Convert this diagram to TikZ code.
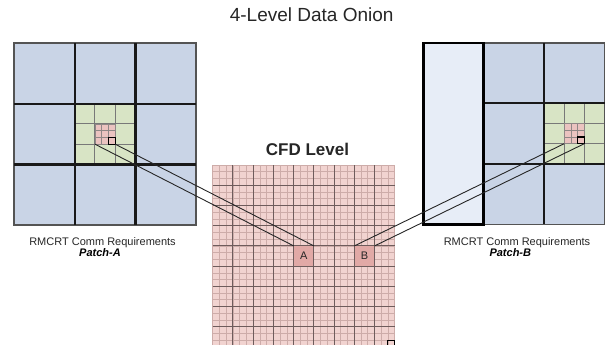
\documentclass[tikz,border=0pt]{standalone}
\usepackage{fontspec}
\setmainfont{Liberation Sans}
\definecolor{bluecell}{RGB}{201,212,230}
\definecolor{lightcol}{RGB}{231,237,247}
\definecolor{greencell}{RGB}{216,228,197}
\definecolor{redcell}{RGB}{235,195,192}
\definecolor{cfdbg}{RGB}{241,211,208}
\definecolor{aboxfill}{RGB}{225,169,166}
\definecolor{fineline}{RGB}{205,172,169}
\definecolor{majorline}{RGB}{110,92,92}
\definecolor{cellgray}{RGB}{120,120,120}
\definecolor{txtgray}{RGB}{38,38,38}
\tikzset{
  bluebox/.style={fill=bluecell,draw=cellgray,line width=1.2pt},
  lightbox/.style={fill=lightcol,draw=black,line width=2.6pt},
  greenbox/.style={fill=greencell,draw=cellgray,line width=1pt},
  redbox/.style={fill=redcell,draw=cellgray!80!redcell,line width=0.8pt},
  heavy/.style={draw=black!90,line width=2.2pt},
  outer/.style={draw=cellgray!70!black,line width=1.4pt},
  finel/.style={draw=fineline,line width=0.7pt},
  majorl/.style={draw=majorline,line width=0.9pt},
  cfdcell/.style={draw=majorline,line width=1pt,fill=aboxfill,minimum size=20.2pt,inner sep=0pt,outer sep=0pt,font=\fontsize{11}{13}\selectfont,text=txtgray},
  conn/.style={draw=black!85,line width=0.9pt},
  marker/.style={draw=black,line width=1.1pt},
}
\begin{document}
\begin{tikzpicture}[x=1pt,y=-1pt]
\useasboundingbox (0,0) rectangle (611,345);

% ---------- left patch (Patch-A) ----------
\foreach \i in {0,1,2}{\foreach \j in {0,1,2}{
  \path[bluebox] (14+\i*60.7,43+\j*60.7) rectangle ++(60.7,60.7);}}
\foreach \i in {0,1,2}{\foreach \j in {0,1,2}{
  \path[greenbox] (74.7+\i*20.233,103.7+\j*20.233) rectangle ++(20.233,20.233);}}
\foreach \i in {0,1,2}{\foreach \j in {0,1,2}{
  \path[redbox] (94.93+\i*6.744,123.93+\j*6.744) rectangle ++(6.744,6.744);}}
\path[marker] (108.42,137.42) rectangle ++(6.744,6.744);
\path[outer] (14,43) rectangle (196.1,225.1);
\path[heavy] (74.7,43) -- (74.7,225.1) (135.4,43) -- (135.4,225.1)
             (14,103.7) -- (196.1,103.7) (14,164.4) -- (196.1,164.4);
\coordinate (la1) at (94.93,144.16);
\coordinate (la2) at (115.16,144.16);

% ---------- right patch (Patch-B) ----------
\foreach \i in {1,2}{\foreach \j in {0,1,2}{
  \path[bluebox] (423.3+\i*60.4,43+\j*60.4) rectangle ++(60.4,60.4);}}
\foreach \i in {0,1,2}{\foreach \j in {0,1,2}{
  \path[greenbox] (544.1+\i*20.133,103.4+\j*20.133) rectangle ++(20.133,20.133);}}
\foreach \i in {0,1,2}{\foreach \j in {0,1,2}{
  \path[redbox] (564.23+\i*6.711,123.53+\j*6.711) rectangle ++(6.711,6.711);}}
\path[marker] (577.65,136.95) rectangle ++(6.711,6.711);
\path[outer] (483.7,43) rectangle (604.5,224.2);
\path[heavy] (544.1,43) -- (544.1,224.2)
             (483.7,103.4) -- (604.5,103.4) (483.7,163.8) -- (604.5,163.8);
\path[lightbox] (423.3,43) rectangle (483.7,224.2);
\coordinate (rb1) at (564.23,143.66);
\coordinate (rb2) at (584.36,143.66);

% ---------- CFD level ----------
\fill[cfdbg] (212.7,165) rectangle ++(182,182);
\foreach \k in {0,...,27}{
  \path[finel] (212.7+\k*6.741,165) -- ++(0,182);
  \path[finel] (212.7,165+\k*6.741) -- ++(182,0);}
\foreach \k in {3,6,...,24}{
  \path[majorl] (212.7+\k*6.741,165) -- ++(0,182);
  \path[majorl] (212.7,165+\k*6.741) -- ++(182,0);}
\path[marker] (387.9,340.3) rectangle ++(6.74,6.74);
\node[cfdcell] (A) at (303.8,256) {A};
\node[cfdcell] (B) at (364.5,256) {B};

% ---------- connectors ----------
\path[conn] (la1) -- (A.north west);
\path[conn] (la2) -- (A.north east);
\path[conn] (rb1) -- (B.north west);
\path[conn] (rb2) -- (B.north east);

% ---------- texts ----------
\node[anchor=base,inner sep=0pt,text=txtgray,font=\fontsize{19}{22}\selectfont] (title) at (311.7,22) {4-Level Data Onion};
\node[anchor=base,inner sep=0pt,text=txtgray,font=\bfseries\fontsize{17}{20}\selectfont] (cfd) at (307.5,155) {CFD Level};
\node[anchor=base,inner sep=0pt,text=txtgray,font=\fontsize{11}{13}\selectfont] (reqA) at (102.5,245) {RMCRT Comm Requirements};
\node[anchor=base,inner sep=0pt,text=black,font=\bfseries\itshape\fontsize{11}{13}\selectfont] (patchA) at (100,256.7) {Patch-A};
\node[anchor=base,inner sep=0pt,text=txtgray,font=\fontsize{11}{13}\selectfont] (reqB) at (517,245) {RMCRT Comm Requirements};
\node[anchor=base,inner sep=0pt,text=black,font=\bfseries\itshape\fontsize{11}{13}\selectfont] (patchB) at (510.3,256.7) {Patch-B};
\end{tikzpicture}
\end{document}
